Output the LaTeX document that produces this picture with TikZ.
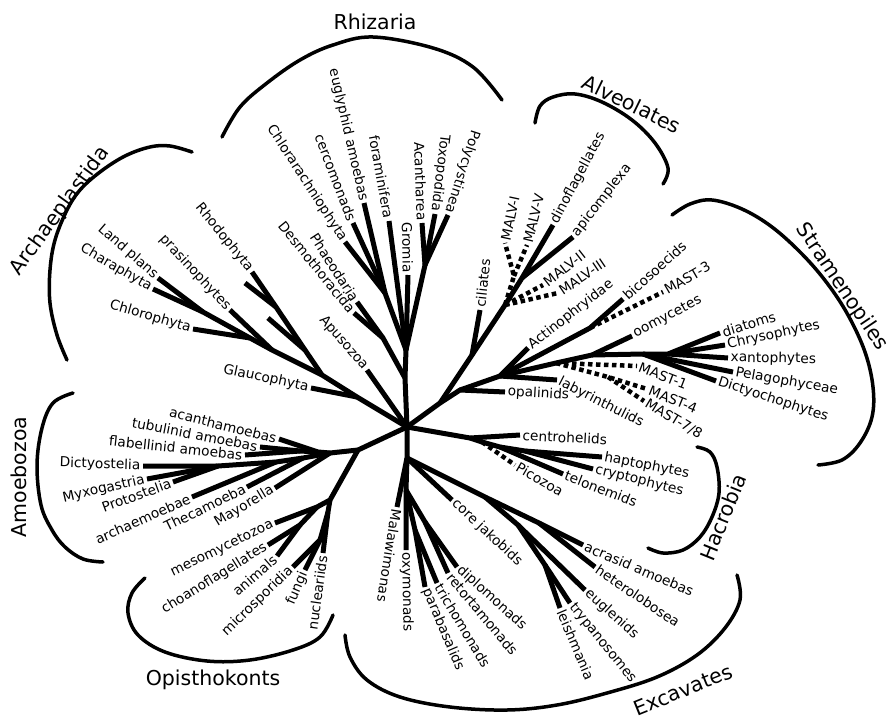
\documentclass[tikz,border=0pt]{standalone}
\usepackage{fontspec}
\setmainfont{DejaVu Sans}
\begin{document}
\begin{tikzpicture}[x=1pt,y=-1pt,
  br/.style={line width=5pt, line join=round},
  dt/.style={line width=4.5pt, dash pattern=on 4.5pt off 3.5pt},
  arcline/.style={line width=3.5pt, line cap=round},
  lab/.style={font=\fontsize{13.7}{14}\selectfont, inner xsep=2.5pt, inner ysep=0pt},
  labE/.style={lab, anchor=east},
  labW/.style={lab, anchor=west},
  grp/.style={font=\fontsize{20.5}{22}\selectfont, inner sep=0pt}]
\useasboundingbox (0,0) rectangle (894,715);
\fill[white] (0,0) rectangle (894,715);

% ---------- coordinates ----------
\coordinate (C) at (407,427);
% Rhizaria
\coordinate (Ra) at (405,378); \coordinate (Rb) at (406,350);
\coordinate (Pd) at (383,338); \coordinate (Rc) at (385,293);
\coordinate (Rf) at (425,265);
\coordinate (tChl) at (345,242); \coordinate (tCer) at (353,223);
\coordinate (tEug) at (364,203); \coordinate (tFor) at (389,221);
\coordinate (tGro) at (408,275); \coordinate (tAca) at (422,223);
\coordinate (tTox) at (435,214); \coordinate (tPol) at (448,215);
\coordinate (tPha) at (357,302); \coordinate (tDes) at (354,313);
\coordinate (tApu) at (367,370);
% Archaeplastida
\coordinate (A1) at (357,397); \coordinate (A2) at (322,375);
\coordinate (Rh3) at (305,350); \coordinate (Rh) at (276,307);
\coordinate (G1) at (272,350); \coordinate (G2) at (250,338); \coordinate (G3) at (203,312);
\coordinate (tGla) at (311,388); \coordinate (tRh1) at (252,272);
\coordinate (tRh2) at (245,283); \coordinate (tRh3) at (268,318);
\coordinate (tPra) at (230,310); \coordinate (tChlo) at (193,329);
\coordinate (tLand) at (158,278); \coordinate (tChara) at (153,289);
% Amoebozoa
\coordinate (O) at (358,450); \coordinate (Am) at (330,453);
\coordinate (Au) at (318,452); \coordinate (Au1) at (300,451);
\coordinate (Al) at (303,458); \coordinate (Al2) at (276,462); \coordinate (Ad) at (218,466);
\coordinate (tAcan) at (279,439); \coordinate (tTub) at (260,447);
\coordinate (tFla) at (245,455); \coordinate (tDic) at (143,466);
\coordinate (tMyx) at (147,479); \coordinate (tPro) at (173,482);
\coordinate (tArc) at (192,497); \coordinate (tThe) at (247,487);
\coordinate (tMay) at (275,488);
% Opisthokonts
\coordinate (Op) at (330,500); \coordinate (Oh) at (317,507);
\coordinate (Oa) at (300,525); \coordinate (Ofm) at (328,512); \coordinate (Of) at (320,540);
\coordinate (tMes) at (275,523); \coordinate (tCho) at (268,545);
\coordinate (tAni) at (277,556); \coordinate (tMic) at (293,567);
\coordinate (tFun) at (305,570); \coordinate (tNuc) at (323,553);
% Excavates
\coordinate (E1) at (407,458); \coordinate (Mt) at (406,490);
\coordinate (Mp) at (415,530); \coordinate (Mr) at (425,522);
\coordinate (Dk) at (485,497); \coordinate (Dh) at (539,523);
\coordinate (De) at (518,525); \coordinate (Dt) at (545,565);
\coordinate (tMal) at (397,507); \coordinate (tOxy) at (406,550);
\coordinate (tPar) at (425,587); \coordinate (tTri) at (437,583);
\coordinate (tRet) at (448,573); \coordinate (tDip) at (457,567);
\coordinate (tJak) at (452,500); \coordinate (tAcr) at (583,545);
\coordinate (tHet) at (595,567); \coordinate (tEugl) at (585,590);
\coordinate (tTry) at (570,603); \coordinate (tLei) at (560,608);
% Hacrobia
\coordinate (H0) at (470,438); \coordinate (H1) at (482,442);
\coordinate (H2) at (500,447); \coordinate (H3) at (525,451);
\coordinate (tCen) at (520,435); \coordinate (tPic) at (515,465);
\coordinate (tTel) at (563,474); \coordinate (tHap) at (602,457);
\coordinate (tCry) at (593,469);
% Alveolates
\coordinate (S0) at (440,403); \coordinate (Ac) at (472,355);
\coordinate (Am2) at (505,305); \coordinate (Ad2) at (522,278);
\coordinate (MV) at (514,276);
\coordinate (tCil) at (480,310); \coordinate (tDin) at (553,225);
\coordinate (tApi) at (573,237); \coordinate (tM1) at (505,243);
\coordinate (tM5) at (527,245); \coordinate (tM2) at (543,285);
\coordinate (tM3) at (558,293);
% Stramenopiles
\coordinate (S1) at (460,390); \coordinate (S2) at (500,376);
\coordinate (Sb) at (590,328); \coordinate (Sm) at (556,363);
\coordinate (So) at (592,355); \coordinate (Soc) at (643,354);
\coordinate (Soc2) at (668,354); \coordinate (M4) at (608,377);
\coordinate (tOpa) at (505,392); \coordinate (tAct) at (528,348);
\coordinate (tLab) at (557,380); \coordinate (tBic) at (623,299);
\coordinate (tMs3) at (663,292); \coordinate (tOom) at (632,336);
\coordinate (tDia) at (720,333); \coordinate (tChr) at (725,345);
\coordinate (tXan) at (728,358); \coordinate (tPel) at (733,372);
\coordinate (tDicty) at (716,381); \coordinate (tMA1) at (637,366);
\coordinate (tMA4) at (647,389); \coordinate (tMA78) at (644,401);

% ---------- branches ----------
% Rhizaria
\draw[br] (C) -- (Ra) -- (Rb);
\draw[br] (Ra) -- (Pd) -- (tPha); \draw[br] (Pd) -- (tDes);
\draw[br] (Rb) -- (Rc) -- (tChl); \draw[br] (Rc) -- (tCer); \draw[br] (Rc) -- (tEug);
\draw[br] (Rb) -- (tFor); \draw[br] (Rb) -- (tGro);
\draw[br] (Rb) -- (Rf) -- (tAca); \draw[br] (Rf) -- (tTox); \draw[br] (Rf) -- (tPol);
\draw[br] (C) -- (tApu);
% Archaeplastida
\draw[br] (C) -- (A1) -- (A2) -- (Rh3) -- (Rh) -- (tRh1);
\draw[br] (Rh) -- (tRh2); \draw[br] (Rh3) -- (tRh3);
\draw[br] (A1) -- (tGla);
\draw[br] (A2) -- (G1) -- (G2) -- (G3) -- (tLand); \draw[br] (G3) -- (tChara);
\draw[br] (G2) -- (tChlo); \draw[br] (G1) -- (tPra);
% Amoebozoa
\draw[br] (C) -- (O) -- (Am) -- (Au) -- (tAcan);
\draw[br] (Au) -- (Au1) -- (tTub); \draw[br] (Au1) -- (tFla);
\draw[br] (Am) -- (Al) -- (Al2) -- (Ad) -- (tDic);
\draw[br] (Ad) -- (tMyx); \draw[br] (Ad) -- (tPro);
\draw[br] (Al2) -- (tArc); \draw[br] (Al) -- (tThe); \draw[br] (Am) -- (tMay);
% Opisthokonts
\draw[br] (O) -- (Op) -- (Oh) -- (tMes);
\draw[br] (Oh) -- (Oa) -- (tCho); \draw[br] (Oa) -- (tAni);
\draw[br] (Op) -- (Ofm) -- (tNuc);
\draw[br] (Ofm) -- (Of) -- (tMic); \draw[br] (Of) -- (tFun);
% Excavates
\draw[br] (C) -- (E1) -- (Mt) -- (tOxy);
\draw[br] (E1) -- (tMal);
\draw[br] (Mt) -- (Mp) -- (tPar); \draw[br] (Mp) -- (tTri);
\draw[br] (Mt) -- (Mr) -- (tRet); \draw[br] (Mr) -- (tDip);
\draw[br] (E1) -- (tJak);
\draw[br] (E1) -- (Dk) -- (Dh) -- (tAcr); \draw[br] (Dh) -- (tHet);
\draw[br] (Dk) -- (De) -- (tEugl);
\draw[br] (De) -- (Dt) -- (tTry); \draw[br] (Dt) -- (tLei);
% Hacrobia
\draw[br] (C) -- (H0) -- (tCen);
\draw[br] (H0) -- (H1) -- (H2) -- (H3) -- (tHap);
\draw[br] (H3) -- (tCry); \draw[br] (H2) -- (tTel);
\draw[dt] (H1) -- (tPic);
% Alveolates
\draw[br] (C) -- (S0) -- (Ac) -- (Am2) -- (Ad2) -- (tDin);
\draw[br] (Ad2) -- (tApi); \draw[br] (Ac) -- (tCil);
\draw[dt] (Am2) -- (MV) -- (tM1); \draw[dt] (MV) -- (tM5);
\draw[dt] (Am2) -- (tM2); \draw[dt] (Am2) -- (tM3);
% Stramenopiles
\draw[br] (S0) -- (S1) -- (tOpa);
\draw[br] (S1) -- (S2) -- (tAct); \draw[br] (S2) -- (tLab);
\draw[br] (S2) -- (Sb) -- (tBic); \draw[dt] (Sb) -- (tMs3);
\draw[br] (S2) -- (Sm) -- (So) -- (tOom);
\draw[br] (So) -- (Soc) -- (tPel); \draw[br] (Soc) -- (tDicty);
\draw[br] (Soc) -- (Soc2) -- (tDia); \draw[br] (Soc2) -- (tChr); \draw[br] (Soc2) -- (tXan);
\draw[dt] (Sm) -- (tMA1); \draw[dt] (Sm) -- (M4) -- (tMA4); \draw[dt] (M4) -- (tMA78);

% ---------- leaf labels ----------
\node[labE, rotate=-57] (lChl) at (tChl) {Chlorarachniophyta};
\node[labE, rotate=-69] (lCer) at (tCer) {cercomonads};
\node[labE, rotate=-77] (lEug) at (tEug) {euglyphid amoebas};
\node[labE, rotate=-80] (lFor) at (tFor) {foraminifera};
\node[labE, rotate=-89] (lGro) at (tGro) {Gromia};
\node[labE, rotate=-88] (lAca) at (tAca) {Acantharea};
\node[labE, rotate=-97] (lTox) at (tTox) {Toxopodida};
\node[labE, rotate=-108] (lPol) at (tPol) {Polycystinea};
\node[labE, rotate=-57] (lPha) at (tPha) {Phaeodaria};
\node[labE, rotate=-51] (lDes) at (tDes) {Desmothoracida};
\node[labE, rotate=-49] (lApu) at (tApu) {Apusozoa};

\node[labE, rotate=-41] (lLand) at (tLand) {Land plans};
\node[labE, rotate=-30] (lChara) at (tChara) {Charaphyta};
\node[labE, rotate=-16] (lChlo) at (tChlo) {Chlorophyta};
\node[labE, rotate=-47] (lPra) at (tPra) {prasinophytes};
\node[labE, rotate=-51] (lRho) at (tRh1) {Rhodophyta};
\node[labE, rotate=-12] (lGla) at (tGla) {Glaucophyta};

\node[labE, rotate=-14] (lAcan) at (tAcan) {acanthamoebas};
\node[labE, rotate=-11] (lTub) at (tTub) {tubulinid amoebas};
\node[labE, rotate=-6] (lFla) at (tFla) {flabellinid amoebas};
\node[labE, rotate=-2] (lDic) at (tDic) {Dictyostelia};
\node[labE, rotate=13] (lMyx) at (tMyx) {Myxogastria};
\node[labE, rotate=20] (lPro) at (tPro) {Protostelia};
\node[labE, rotate=24] (lArc) at (tArc) {archaemoebae};
\node[labE, rotate=26] (lThe) at (tThe) {Thecamoeba};
\node[labE, rotate=31] (lMay) at (tMay) {Mayorella};

\node[labE, rotate=26] (lMes) at (tMes) {mesomycetozoa};
\node[labE, rotate=32] (lCho) at (tCho) {choanoflagellates};
\node[labE, rotate=41] (lAni) at (tAni) {animals};
\node[labE, rotate=44] (lMic) at (tMic) {microsporidia};
\node[labE, rotate=67] (lFun) at (tFun) {fungi};
\node[labE, rotate=82] (lNuc) at (tNuc) {nucleariids};

\node[labW, rotate=-99] (lMal) at (tMal) {Malawimonas};
\node[labW, rotate=-89] (lOxy) at (tOxy) {oxymonads};
\node[labW, rotate=-67] (lPar) at (tPar) {parabasalids};
\node[labW, rotate=-59] (lTri) at (tTri) {trichomonads};
\node[labW, rotate=-50] (lRet) at (tRet) {retortamonads};
\node[labW, rotate=-42] (lDip) at (tDip) {diplomonads};
\node[labW, rotate=-43] (lJak) at (tJak) {core jakobids};
\node[labW, rotate=-23] (lAcr) at (tAcr) {acrasid amoebas};
\node[labW, rotate=-34] (lHet) at (tHet) {heterolobosea};
\node[labW, rotate=-42] (lEugl) at (tEugl) {euglenids};
\node[labW, rotate=-51] (lTry) at (tTry) {trypanosomes};
\node[labW, rotate=-67] (lLei) at (tLei) {leishmania};

\node[labW, rotate=-3] (lCen) at (tCen) {centrohelids};
\node[labW, rotate=-11] (lHap) at (tHap) {haptophytes};
\node[labW, rotate=-14] (lCry) at (tCry) {cryptophytes};
\node[labW, rotate=-21] (lTel) at (tTel) {telonemids};
\node[labW, rotate=-30] (lPic) at (tPic) {Picozoa};

\node[labW, rotate=84] (lCil) at (tCil) {ciliates};
\node[labW, rotate=78] (lM1) at (tM1) {MALV-I};
\node[labW, rotate=76] (lM5) at (tM5) {MALV-V};
\node[labW, rotate=62] (lDin) at (tDin) {dinoflagellates};
\node[labW, rotate=52] (lApi) at (tApi) {apicomplexa};
\node[labW, rotate=38] (lM2) at (tM2) {MALV-II};
\node[labW, rotate=34] (lM3) at (tM3) {MALV-III};

\node[labW, rotate=38] (lAct) at (tAct) {Actinophryidae};
\node[labW, rotate=42] (lBic) at (tBic) {bicosoecids};
\node[labW, rotate=30] (lMs3) at (tMs3) {MAST-3};
\node[labW, rotate=28] (lOom) at (tOom) {oomycetes};
\node[labW, rotate=17] (lDia) at (tDia) {diatoms};
\node[labW, rotate=12] (lChr) at (tChr) {Chrysophytes};
\node[labW, rotate=-1] (lXan) at (tXan) {xantophytes};
\node[labW, rotate=-10] (lPel) at (tPel) {Pelagophyceae};
\node[labW, rotate=-18] (lDicty) at (tDicty) {Dictyochophytes};
\node[labW, rotate=-21] (lMA1) at (tMA1) {MAST-1};
\node[labW, rotate=-22] (lMA4) at (tMA4) {MAST-4};
\node[labW, rotate=-31] (lMA78) at (tMA78) {MAST-7/8};
\node[labW, rotate=-27] (lLab) at (tLab) {labyrinthulids};
\node[labW, rotate=-3] (lOpa) at (tOpa) {opalinids};

% ---------- group brackets ----------
\draw[arcline] plot[smooth, tension=0.6] coordinates {(222,137) (240,107) (267,83) (300,60) (333,45) (373,37) (433,48) (473,67) (502,100)};
\draw[arcline] plot[smooth, tension=0.6] coordinates {(535,123) (540,106) (553,97) (575,94) (602,102) (632,120) (655,143) (668,168) (663,184)};
\draw[arcline] plot[smooth, tension=0.6] coordinates {(672,215) (690,204) (712,200) (742,209) (772,227) (802,254) (827,283) (848,315) (865,352) (873,387) (872,417) (860,443) (842,460) (818,465)};
\draw[arcline] plot[smooth, tension=0.6] coordinates {(192,152) (170,146) (150,147) (125,156) (100,172) (80,190) (67,210) (55,240) (50,270) (50,303) (57,335) (67,360)};
\draw[arcline] plot[smooth, tension=0.6] coordinates {(73,393) (53,403) (42,428) (37,465) (41,505) (52,530) (65,547) (83,559) (103,562)};
\draw[arcline] plot[smooth, tension=0.6] coordinates {(145,578) (132,593) (128,613) (138,635) (165,652) (207,661) (250,660) (293,650) (320,637) (333,615)};
\draw[arcline] plot[smooth, tension=0.6] coordinates {(345,635) (350,657) (367,680) (400,697) (450,707) (507,710) (557,705) (607,693) (657,677) (697,655) (725,628) (740,600) (737,575)};
\draw[arcline] plot[smooth, tension=0.6] coordinates {(697,447) (710,452) (717,467) (719,493) (712,517) (700,537) (683,550) (663,553) (648,548)};

% ---------- group labels ----------
\node[grp] (gRhi) at (375,22) {Rhizaria};
\node[grp, rotate=-26] (gAlv) at (632,104) {Alveolates};
\node[grp, rotate=-56] (gStr) at (842,287) {Stramenopiles};
\node[grp, rotate=54] (gArc) at (60,211) {Archaeplastida};
\node[grp, rotate=90] (gAmo) at (19,477) {Amoebozoa};
\node[grp] (gOpi) at (213,680) {Opisthokonts};
\node[grp, rotate=22] (gExc) at (683,690) {Excavates};
\node[grp, rotate=68] (gHac) at (723,517) {Hacrobia};
\end{tikzpicture}
\end{document}
